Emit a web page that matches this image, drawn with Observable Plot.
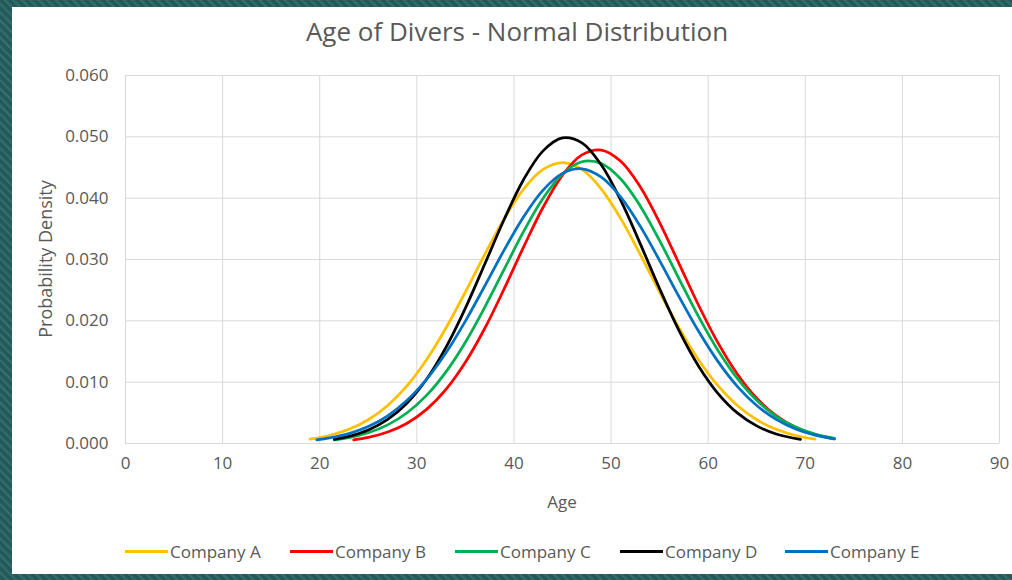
<!DOCTYPE html>
<html>
<head>
<meta charset="utf-8">
<script src="https://cdn.jsdelivr.net/npm/d3@7"></script>
<script src="https://cdn.jsdelivr.net/npm/@observablehq/plot@0.6"></script>
<style>
  html, body { margin: 0; padding: 0; }
  body { width: 1012px; height: 580px; overflow: hidden; background: #2a6262; font-family: "Open Sans", sans-serif; }
  #frame { position: absolute; left: 0; top: 0; width: 1012px; height: 580px;
    background: repeating-linear-gradient(45deg, #2b6666 0px, #1f5555 3px, #3a7474 6px); }
  #panel { position: absolute; left: 12px; top: 7px; width: 1000px; height: 567px; background: #ffffff; }
  #title { position: absolute; left: 0; top: 13px; width: 1034px; text-align: center; font-size: 26px; color: #595959; }
  #chart { position: absolute; left: 0; top: 55px; }
  #ylabel { position: absolute; left: 45px; top: 259px; transform: translate(-50%, -50%) rotate(-90deg); font-size: 18px; color: #595959; white-space: nowrap; }
  #xlabel { position: absolute; left: 562px; top: 501px; transform: translate(-50%, -50%); font-size: 17px; color: #595959; }
  #legend { position: absolute; left: 125px; top: 540px; display: flex; }
  .item { width: 165px; display: flex; align-items: center; font-size: 17px; color: #595959; white-space: nowrap; }
  .sw { width: 43px; height: 3px; margin-right: 2px; }
</style>
</head>
<body>
<div id="frame"></div>
<div id="panel"></div>
<div id="title">Age of Divers - Normal Distribution</div>
<div id="chart"></div>
<div id="ylabel">Probability Density</div>
<div id="xlabel">Age</div>
<div id="legend"></div>
<script>
const companies = ["Company A", "Company B", "Company C", "Company D", "Company E"];
const colors = ["#FFC000", "#FF0000", "#00B050", "#000000", "#0070C0"];
const xTicks = [0, 10, 20, 30, 40, 50, 60, 70, 80, 90];
const yTicks = [0, 0.01, 0.02, 0.03, 0.04, 0.05, 0.06];

const agesA = [19,21,23,25,27,29,31,33,35,37,39,41,43,45,47,49,51,53,55,57,59,61,63,65,67,69,71];
const densA = [0.00071,0.00131,0.00231,0.00388,0.00620,0.00943,0.01366,0.01883,0.02470,0.03085,0.03667,0.04149,0.04468,0.04580,0.04468,0.04149,0.03667,0.03085,0.02470,0.01883,0.01366,0.00943,0.00620,0.00388,0.00231,0.00131,0.00071];

const agesB = [23.5,25,27,29,31,33,35,37,39,41,43,45,47,49,51,53,55,57,59,61,63,65,67,69,71,73];
const densB = [0.00060,0.00100,0.00187,0.00331,0.00556,0.00882,0.01324,0.01879,0.02524,0.03206,0.03852,0.04377,0.04706,0.04785,0.04602,0.04187,0.03603,0.02933,0.02258,0.01644,0.01133,0.00738,0.00455,0.00265,0.00146,0.00076];

const agesC = [21.5,23,25,27,29,31,33,35,37,39,41,43,45,47,49,51,53,55,57,59,61,63,65,67,69,71,73];
const densC = [0.00060,0.00096,0.00176,0.00304,0.00501,0.00784,0.01168,0.01652,0.02223,0.02843,0.03458,0.03998,0.04395,0.04594,0.04565,0.04313,0.03874,0.03308,0.02686,0.02074,0.01522,0.01062,0.00705,0.00444,0.00267,0.00152,0.00082];

const agesD = [21.5,23,25,27,29,31,33,35,37,39,41,43,45,47,49,51,53,55,57,59,61,63,65,67,69.5];
const densD = [0.00069,0.00115,0.00219,0.00392,0.00661,0.01048,0.01567,0.02207,0.02927,0.03657,0.04304,0.04771,0.04982,0.04901,0.04541,0.03964,0.03259,0.02524,0.01841,0.01265,0.00819,0.00499,0.00287,0.00155,0.00066];

const agesE = [19.7,21,23,25,27,29,31,33,35,37,39,41,43,45,47,49,51,53,55,57,59,61,63,65,67,69,71,73];
const densE = [0.00060,0.00091,0.00162,0.00277,0.00452,0.00704,0.01044,0.01478,0.01996,0.02570,0.03156,0.03698,0.04132,0.04404,0.04478,0.04342,0.04016,0.03544,0.02982,0.02394,0.01833,0.01339,0.00932,0.00620,0.00393,0.00237,0.00137,0.00075];

const seriesAges = [agesA, agesB, agesC, agesD, agesE];
const seriesDens = [densA, densB, densC, densD, densE];

const rows = [];
companies.forEach((c, i) => {
  seriesAges[i].forEach((a, j) => rows.push({company: c, age: a, density: seriesDens[i][j]}));
});

const chart = Plot.plot({
  width: 1012,
  height: 458,
  marginTop: 20,
  marginBottom: 70,
  marginLeft: 125,
  marginRight: 13,
  style: { fontFamily: "'Open Sans', sans-serif", fontSize: "17px", color: "#595959", background: "transparent", overflow: "visible" },
  x: { domain: [0, 90] },
  y: { domain: [0, 0.06] },
  color: { domain: companies, range: colors },
  marks: [
    Plot.gridX(xTicks, { stroke: "#d9d9d9", strokeOpacity: 1, strokeWidth: 1 }),
    Plot.gridY(yTicks, { stroke: "#d9d9d9", strokeOpacity: 1, strokeWidth: 1 }),
    Plot.axisX(xTicks, { tickSize: 0, tickPadding: 13, label: null, tickFormat: d => String(d) }),
    Plot.axisY(yTicks, { tickSize: 0, tickPadding: 17, label: null, tickFormat: d => d.toFixed(3) }),
    Plot.line(rows, { x: "age", y: "density", z: "company", stroke: "company", strokeWidth: 2.75, curve: "catmull-rom" })
  ]
});
document.getElementById("chart").appendChild(chart);

const legend = document.getElementById("legend");
companies.forEach((c, i) => {
  const item = document.createElement("div");
  item.className = "item";
  const sw = document.createElement("div");
  sw.className = "sw";
  sw.style.background = colors[i];
  const lab = document.createElement("span");
  lab.textContent = c;
  item.appendChild(sw);
  item.appendChild(lab);
  legend.appendChild(item);
});
</script>
</body>
</html>
